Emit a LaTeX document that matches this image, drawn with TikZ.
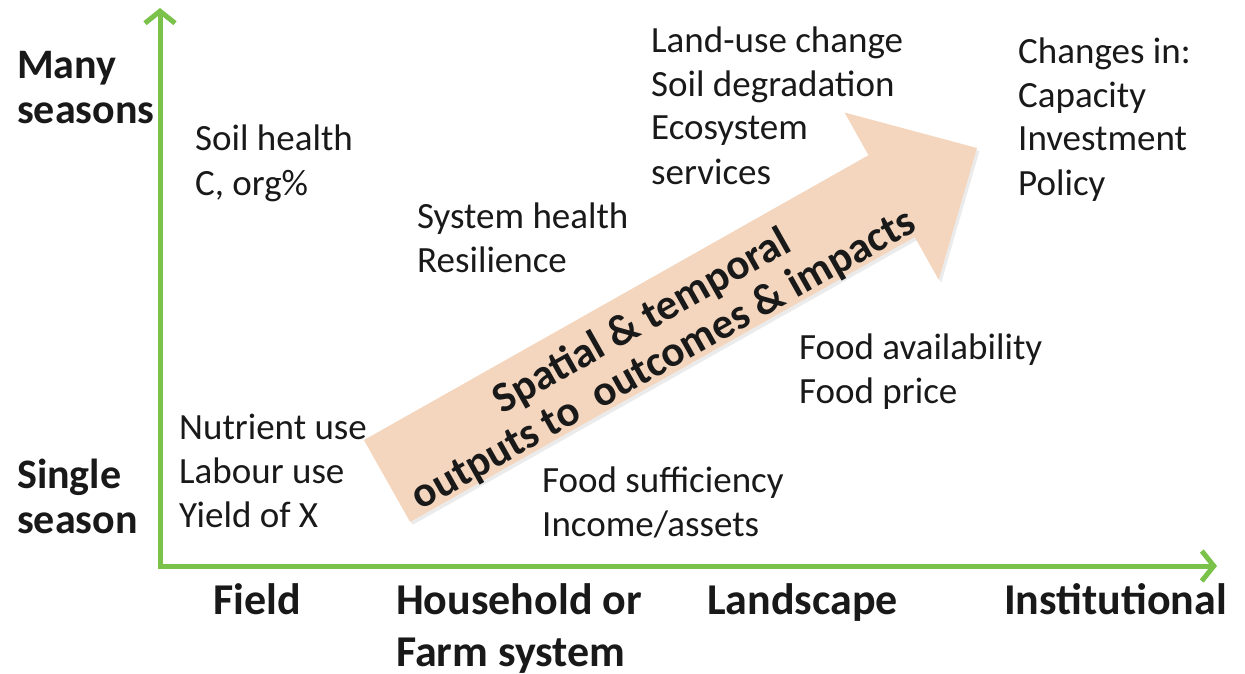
\documentclass[tikz,border=0pt]{standalone}
\usepackage{fontspec}
\setmainfont{Carlito}
\usetikzlibrary{arrows.meta}
\definecolor{axisgreen}{RGB}{122,194,74}
\definecolor{peach}{RGB}{244,214,190}
\definecolor{ink}{RGB}{25,25,25}
\tikzset{
  lbl/.style={anchor=base west, inner sep=0pt, align=left, text=ink,
    font=\fontsize{37}{44}\selectfont},
  axlbl/.style={anchor=base west, inner sep=0pt, align=left, text=ink,
    font=\fontsize{42}{45}\selectfont\bfseries},
  bottomlbl/.style={axlbl, font=\fontsize{44}{52}\selectfont\bfseries},
  axisline/.style={draw=axisgreen, line width=5pt, line join=miter,
    {Straight Barb[length=12pt,width=30pt,line width=5pt]}-{Straight Barb[length=12pt,width=30pt,line width=5pt]}},
  bigarrow/.style={fill=peach, draw=none},
  arrowshadow/.style={fill=black, opacity=0.08, draw=none},
  arrowtext/.style={inner sep=0pt, align=center, text=ink, rotate=29.4,
    font=\fontsize{43}{44}\selectfont\bfseries}
}
\begin{document}
\begin{tikzpicture}[x=1pt,y=-1pt]
\useasboundingbox (0,0) rectangle (1245,674);
% axes
\coordinate (ytop) at (160,8);
\coordinate (origin) at (160,566);
\coordinate (xend) at (1217,566);
\draw[axisline] (ytop) -- (origin) -- (xend);
% big arrow (with faint shadow)
\begin{scope}[shift={(2.5pt,-3pt)}]
\fill[arrowshadow] (363.9,440.1) -- (868.5,155.2) -- (844.5,112.5) -- (977,148)
  -- (938.7,279.7) -- (914.7,237.0) -- (410.1,521.9) -- cycle;
\end{scope}
\draw[bigarrow] (363.9,440.1) -- (868.5,155.2) -- (844.5,112.5) -- (977,148)
  -- (938.7,279.7) -- (914.7,237.0) -- (410.1,521.9) -- cycle;
\node[arrowtext] (arrowtxt) at (653,341) {Spatial \& temporal\\outputs to\ \ outcomes \& impacts};
% axis labels
\node[axlbl] (many) at (17,124) {Many\\seasons};
\node[axlbl] (single) at (17,533) {Single\\season};
\node[bottomlbl] (field) at (213,614) {Field};
\node[bottomlbl] (household) at (396,666) {Household or\\Farm system};
\node[bottomlbl] (landscape) at (707,614) {Landscape};
\node[bottomlbl] (institutional) at (1004,614) {Institutional};
% content labels
\node[lbl] (soil) at (195,195) {Soil health\\C, org\%};
\node[lbl] (system) at (417,272) {System health\\Resilience};
\node[lbl] (landuse) at (651,184) {Land-use change\\Soil degradation\\Ecosystem\\services};
\node[lbl] (changes) at (1018,195) {Changes in:\\Capacity\\Investment\\Policy};
\node[lbl] (foodavail) at (799,403) {Food availability\\Food price};
\node[lbl] (nutrient) at (179,527) {Nutrient use\\Labour use\\Yield of X};
\node[lbl] (foodsuff) at (542,536) {Food sufficiency\\Income/assets};
\end{tikzpicture}
\end{document}
